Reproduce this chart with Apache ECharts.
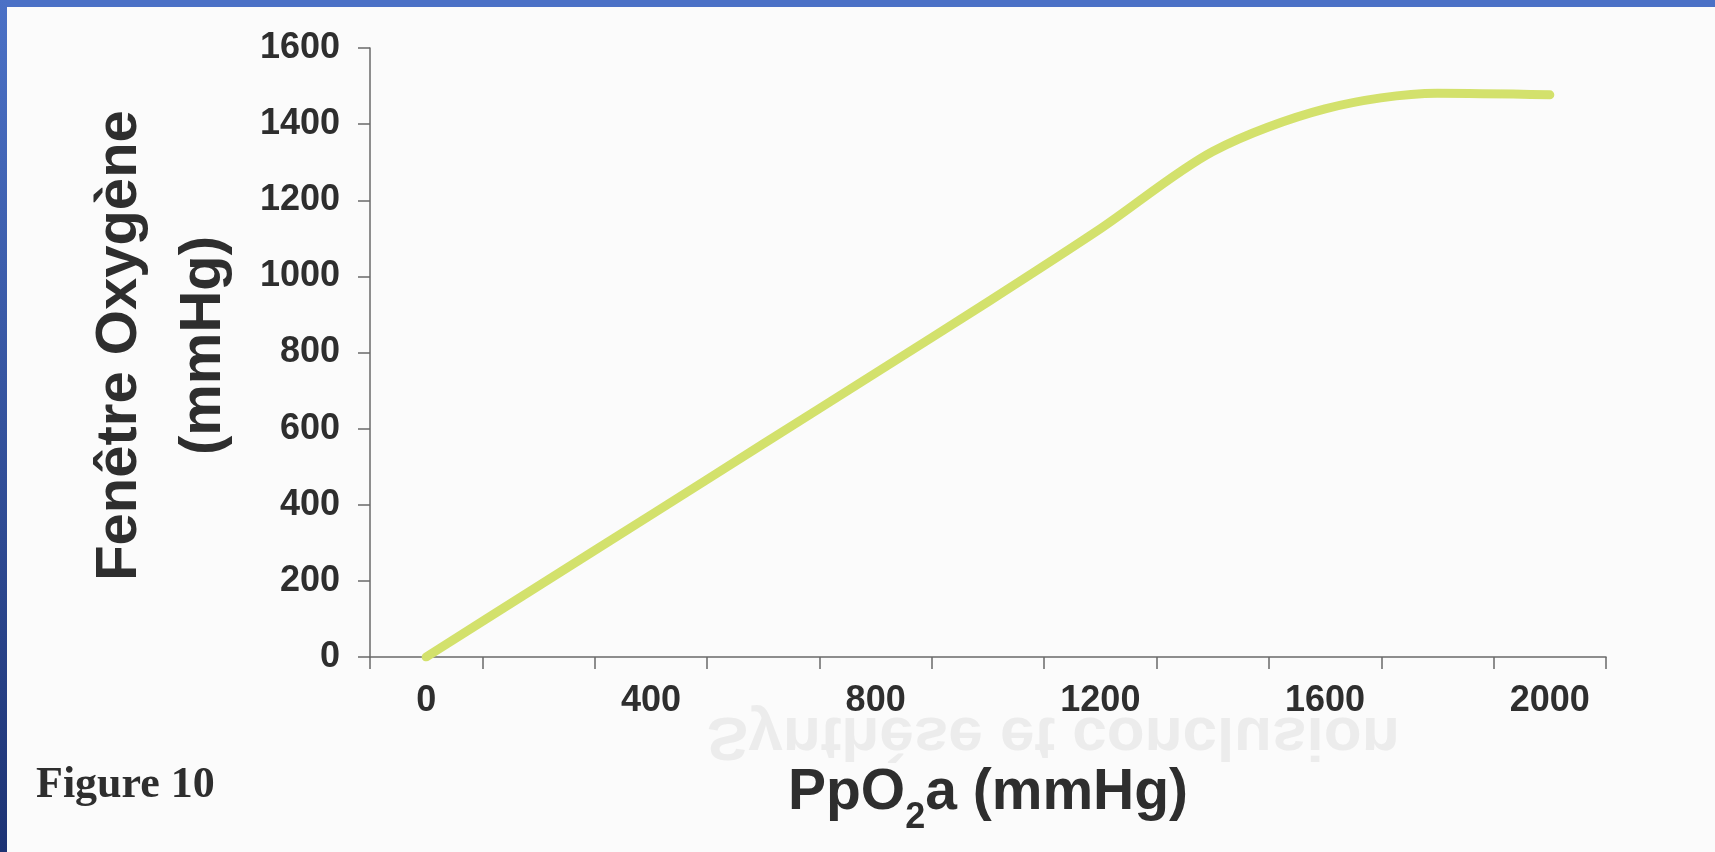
<!DOCTYPE html>
<html>
<head>
<meta charset="utf-8">
<script src="https://cdn.jsdelivr.net/npm/echarts@6/dist/echarts.min.js"></script>
<style>
html,body{margin:0;padding:0;background:#fbfbfb;}
#c{width:1715px;height:852px;}
</style>
</head>
<body>
<div id="c"></div>
<script>
// Data
const categories = ['0','200','400','600','800','1000','1200','1400','1600','1800','2000'];
const oxygenWindow = [0, 187, 373, 560, 746, 933, 1125, 1328, 1440, 1481, 1477];
const yMin = 0, yMax = 1600, yInterval = 200;
const xTitle = 'PpO{sub|2}a (mmHg)';
const yTitle = 'Fenêtre Oxygène\n(mmHg)';
const figureLabel = 'Figure 10';

const font = '"Liberation Sans", Arial, sans-serif';
const ink = '#2e2e2e';

const chart = echarts.init(document.getElementById('c'));
chart.setOption({
  backgroundColor: '#fbfbfb',
  animation: false,
  grid: { left: 370, right: 109, top: 48, bottom: 195, containLabel: false },
  xAxis: {
    type: 'category',
    data: categories,
    boundaryGap: true,
    axisLine: { show: true, lineStyle: { color: '#6a6a6a', width: 1.5 } },
    axisTick: { show: true, interval: 0, length: 12, alignWithLabel: false, lineStyle: { color: '#6a6a6a', width: 1.5 } },
    axisLabel: { interval: 1, margin: 26, color: ink, fontSize: 36, fontWeight: 'bold', fontFamily: font },
    splitLine: { show: false },
    name: xTitle,
    nameLocation: 'middle',
    nameGap: 108,
    nameTextStyle: {
      color: ink, fontSize: 57, fontWeight: 'bold', fontFamily: font,
      rich: {
        sub: { fontSize: 36, fontWeight: 'bold', fontFamily: font, color: ink, verticalAlign: 'bottom', lineHeight: 40, padding: [0, 0, -14, 0] }
      }
    }
  },
  yAxis: {
    type: 'value',
    min: yMin, max: yMax, interval: yInterval,
    axisLine: { show: true, lineStyle: { color: '#6a6a6a', width: 1.5 } },
    axisTick: { show: true, length: 12, lineStyle: { color: '#6a6a6a', width: 1.5 } },
    axisLabel: { margin: 30, color: ink, fontSize: 36, fontWeight: 'bold', fontFamily: font, formatter: v => String(v) },
    splitLine: { show: false },
    name: yTitle,
    nameLocation: 'middle',
    nameRotate: 90,
    nameGap: 124,
    nameTextStyle: { color: ink, fontSize: 58, fontWeight: 'bold', fontFamily: font, lineHeight: 84, align: 'center', padding: [0, 0, 0, 14] }
  },
  series: [{
    type: 'line',
    data: oxygenWindow,
    smooth: 0.3,
    showSymbol: false,
    lineStyle: { color: '#d3e16c', width: 9, cap: 'round', join: 'round' },
    itemStyle: { color: '#d3e16c' },
    z: 3
  }],
  graphic: [
    { type: 'rect', left: 0, top: 0, shape: { width: 1715, height: 7 }, style: { fill: '#4b71c6' }, z: 100 },
    { type: 'rect', left: 0, top: 0, shape: { width: 7, height: 852 },
      style: { fill: new echarts.graphic.LinearGradient(0, 0, 0, 1, [
        { offset: 0, color: '#4b71c6' }, { offset: 1, color: '#1d3374' }]) }, z: 100 },
    { type: 'text', left: 707, top: 704, scaleY: -1, originY: 20,
      style: { text: 'Synthèse et conclusion', fill: '#ececec', fontSize: 62, fontWeight: 'bold', fontFamily: font }, z: 0 },
    { type: 'text', left: 36, top: 764,
      style: { text: figureLabel, fill: ink, fontSize: 44, fontWeight: 'bold', fontFamily: '"Liberation Serif", "Times New Roman", serif' }, z: 10 }
  ]
});
</script>
</body>
</html>
